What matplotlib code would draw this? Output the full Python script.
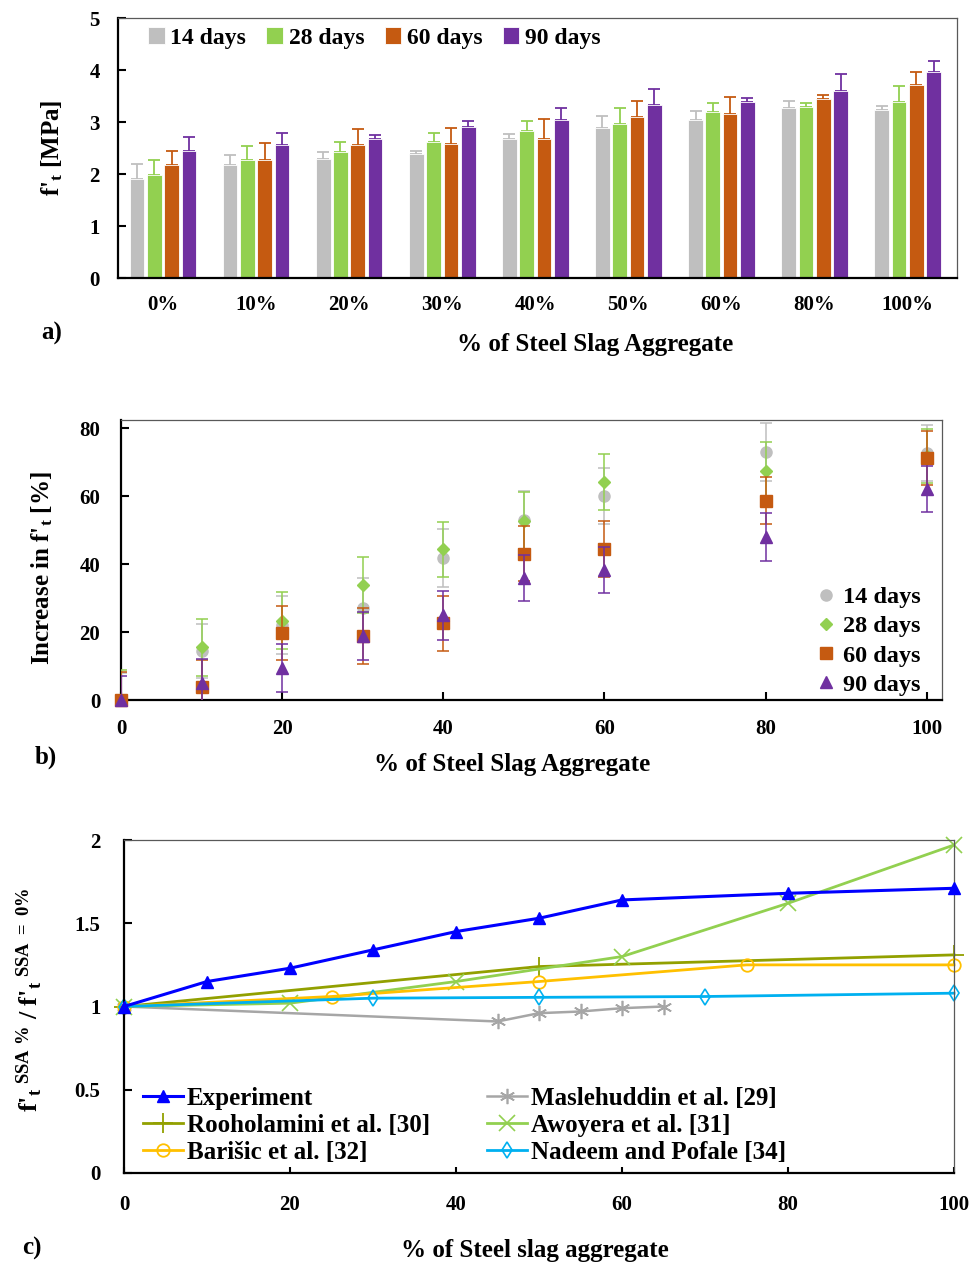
import numpy as np
import matplotlib
matplotlib.use("Agg")
import matplotlib.pyplot as plt

plt.rcParams["font.family"] = ["Liberation Serif", "DejaVu Serif"]
plt.rcParams["font.weight"] = "bold"
plt.rcParams["axes.labelweight"] = "bold"
plt.rcParams["mathtext.fontset"] = "custom"
plt.rcParams["mathtext.rm"] = "Liberation Serif:bold"
plt.rcParams["mathtext.it"] = "Liberation Serif:bold"
plt.rcParams["mathtext.bf"] = "Liberation Serif:bold"

# ---- panel a data: splitting tensile strength (MPa) ----
categories = ["0%", "10%", "20%", "30%", "40%", "50%", "60%", "80%", "100%"]
ages = ["14 days", "28 days", "60 days", "90 days"]
ft_14 = [1.91, 2.18, 2.29, 2.38, 2.67, 2.89, 3.03, 3.26, 3.24]
ft_28 = [1.98, 2.27, 2.42, 2.62, 2.82, 2.97, 3.20, 3.29, 3.38]
ft_60 = [2.18, 2.27, 2.56, 2.58, 2.67, 3.09, 3.15, 3.44, 3.71]
ft_90 = [2.45, 2.56, 2.67, 2.91, 3.04, 3.33, 3.38, 3.60, 3.96]
err_14 = [0.29, 0.19, 0.13, 0.06, 0.10, 0.22, 0.19, 0.14, 0.07]
err_28 = [0.28, 0.26, 0.20, 0.17, 0.20, 0.29, 0.17, 0.08, 0.31]
err_60 = [0.26, 0.33, 0.31, 0.30, 0.39, 0.31, 0.33, 0.07, 0.25]
err_90 = [0.26, 0.22, 0.08, 0.11, 0.22, 0.31, 0.08, 0.33, 0.21]

# ---- panel b data: increase in f't (%) ----
ssa_pct = [0, 10, 20, 30, 40, 50, 60, 80, 100]
inc_14 = [0, 14.5, 22.0, 27.2, 41.7, 53.0, 60.0, 73.0, 72.7]
inc_28 = [0, 15.5, 23.3, 33.9, 44.3, 52.8, 64.2, 67.5, 71.8]
inc_60 = [0, 3.9, 19.8, 18.8, 22.6, 43.0, 44.5, 58.7, 71.3]
inc_90 = [0, 5.0, 9.5, 18.8, 24.9, 36.0, 38.2, 48.0, 62.0]
ierr_14 = [8.0, 8.0, 8.5, 8.6, 8.5, 8.5, 8.3, 8.5, 8.3]
ierr_28 = [8.8, 8.4, 8.4, 8.3, 8.2, 8.4, 8.3, 8.3, 8.0]
ierr_60 = [8.3, 8.0, 8.0, 8.3, 8.1, 8.1, 8.2, 7.0, 8.0]
ierr_90 = [7.2, 7.2, 7.1, 7.0, 7.2, 6.8, 6.8, 7.0, 6.8]

# ---- panel c data: ratio to 0% SSA ----
exp_x = [0, 10, 20, 30, 40, 50, 60, 80, 100]
exp_y = [1.0, 1.15, 1.23, 1.34, 1.45, 1.53, 1.64, 1.68, 1.71]
mas_x = [0, 45, 50, 55, 60, 65]
mas_y = [1.0, 0.91, 0.96, 0.97, 0.99, 1.0]
roo_x = [0, 50, 100]
roo_y = [1.0, 1.24, 1.31]
awo_x = [0, 20, 40, 60, 80, 100]
awo_y = [1.0, 1.02, 1.15, 1.30, 1.62, 1.97]
bar_x = [0, 25, 50, 75, 100]
bar_y = [1.0, 1.06, 1.15, 1.25, 1.25]
nad_x = [0, 30, 50, 70, 100]
nad_y = [1.0, 1.05, 1.055, 1.06, 1.08]

colors = ["#BFBFBF", "#92D050", "#C55A11", "#7030A0"]

W, H = 977, 1268
fig = plt.figure(figsize=(W / 100, H / 100), dpi=100)
LBL = 18
TCK = 15


def axes_px(left, top, right, bottom):
    return fig.add_axes([left / W, 1 - bottom / H, (right - left) / W, (bottom - top) / H])


def px(x, y):
    return x / W, 1 - y / H


def style_axes(ax, xpad, ypad, xticks_len=6):
    for s in ["left", "bottom"]:
        ax.spines[s].set_linewidth(1.6)
        ax.spines[s].set_color("black")
    for s in ["top", "right"]:
        ax.spines[s].set_linewidth(0.9)
        ax.spines[s].set_color("#595959")
    ax.tick_params(axis="y", direction="in", length=6, width=1.5, pad=ypad, labelsize=TCK)
    ax.tick_params(axis="x", direction="in", length=xticks_len, width=1.5, pad=xpad, labelsize=TCK)


# ================= panel a =================
ax1 = axes_px(118, 18, 957, 278)
vals = [ft_14, ft_28, ft_60, ft_90]
errs = [err_14, err_28, err_60, err_90]
x = np.arange(len(categories))
step = 0.186
for i in range(4):
    pos = x + (i - 1.5) * step
    ax1.bar(pos, vals[i], width=0.158, color=colors[i], edgecolor="white",
            linewidth=0.6, label=ages[i], zorder=2)
    ax1.errorbar(pos, vals[i], yerr=[np.zeros(len(x)), errs[i]], fmt="none",
                 ecolor=colors[i], elinewidth=1.3, capsize=4, capthick=1.3, zorder=1)
ax1.set_xlim(-0.483, 8.53)
ax1.set_ylim(0, 5)
ax1.set_yticks(range(6))
ax1.set_xticks(x)
ax1.set_xticklabels(categories)
style_axes(ax1, xpad=12, ypad=13, xticks_len=0)
ax1.legend(loc="upper left", bbox_to_anchor=px(148, 27), bbox_transform=fig.transFigure,
           ncol=4, frameon=False, fontsize=17, handlelength=0.7, handleheight=0.7,
           handletextpad=0.25, columnspacing=0.85, borderaxespad=0, borderpad=0)
fig.text(*px(52, 148), "f'$_{t}$ [MPa]", rotation=90, ha="center", va="center", fontsize=LBL)
fig.text(*px(595, 345), "% of Steel Slag Aggregate", ha="center", va="center", fontsize=LBL)
fig.text(*px(52, 333), "a)", ha="center", va="center", fontsize=LBL)

# ================= panel b =================
ax2 = axes_px(121, 420, 942, 700)
series_b = [(inc_14, ierr_14, "o", 8), (inc_28, ierr_28, "D", 6.5),
            (inc_60, ierr_60, "s", 8.5), (inc_90, ierr_90, "^", 8.5)]
for i, (yv, ev, mk, ms) in enumerate(series_b):
    ax2.errorbar(ssa_pct, yv, yerr=ev, fmt="none", ecolor=colors[i], elinewidth=1.1,
                 capsize=4, capthick=1.1, zorder=3 + i)
    ax2.plot(ssa_pct, yv, mk, color=colors[i], ms=ms, mec=colors[i], label=ages[i],
             clip_on=False, zorder=3 + i)
ax2.set_xlim(0, 101.9)
ax2.set_ylim(0, 82.4)
ax2.set_xticks(range(0, 101, 20))
ax2.set_yticks(range(0, 81, 20))
style_axes(ax2, xpad=14, ypad=15)
ax2.legend(loc="lower right", bbox_to_anchor=px(921, 696),
           bbox_transform=fig.transFigure, frameon=False, fontsize=17.5,
           handlelength=0.8, handletextpad=0.3, labelspacing=0.3,
           borderaxespad=0, borderpad=0)
fig.text(*px(42, 568), "Increase in f'$_{t}$ [%]", rotation=90, ha="center", va="center", fontsize=LBL)
fig.text(*px(512, 765), "% of Steel Slag Aggregate", ha="center", va="center", fontsize=LBL)
fig.text(*px(46, 757), "b)", ha="center", va="center", fontsize=LBL)

# ================= panel c =================
ax3 = axes_px(124, 840, 954, 1173)
ax3.plot(mas_x, mas_y, color="#A6A6A6", lw=1.8, marker=(6, 2, 0), ms=11, mew=1.2,
         label="Maslehuddin et al. [29]", clip_on=False)
ax3.plot(roo_x, roo_y, color="#92A000", lw=2.0, marker="+", ms=14, mew=1.3,
         label="Rooholamini et al. [30]", clip_on=False)
ax3.plot(awo_x, awo_y, color="#92D050", lw=2.0, marker="x", ms=11, mew=1.2,
         label="Awoyera et al. [31]", clip_on=False)
ax3.plot(bar_x, bar_y, color="#FFC000", lw=2.0, marker="o", ms=9, mfc="none", mew=1.3,
         label="Barišic et al. [32]", clip_on=False)
ax3.plot(nad_x, nad_y, color="#00B0F0", lw=2.0, marker="d", ms=8, mfc="none", mew=1.2,
         label="Nadeem and Pofale [34]", clip_on=False)
ax3.plot(exp_x, exp_y, color="#0000FF", lw=2.2, marker="^", ms=8.5,
         label="Experiment", clip_on=False, zorder=5)
ax3.set_xlim(0, 100)
ax3.set_ylim(0, 2)
ax3.set_xticks(range(0, 101, 20))
ax3.set_yticks([0, 0.5, 1, 1.5, 2])
ax3.set_yticklabels(["0", "0.5", "1", "1.5", "2"])
style_axes(ax3, xpad=16, ypad=17, xticks_len=4)
h3, l3 = ax3.get_legend_handles_labels()
order = [5, 1, 3, 0, 2, 4]
ax3.legend([h3[k] for k in order], [l3[k] for k in order], ncol=2, loc="upper left",
           bbox_to_anchor=px(143, 1087), bbox_transform=fig.transFigure, frameon=False,
           fontsize=18, handlelength=1.6, handletextpad=0.15, labelspacing=0.15,
           columnspacing=2.3, borderaxespad=0, borderpad=0)
fig.text(*px(30, 1000), "f'$_{t}$$^{\\ SSA\\ \\%}$ / f'$_{t}$$^{\\ SSA\\ =\\ 0\\%}$",
         rotation=90, ha="center", va="center", fontsize=19)
fig.text(*px(535, 1250), "% of Steel slag aggregate", ha="center", va="center", fontsize=LBL)
fig.text(*px(32, 1248), "c)", ha="center", va="center", fontsize=LBL)

fig.savefig("out.png", dpi=100)
